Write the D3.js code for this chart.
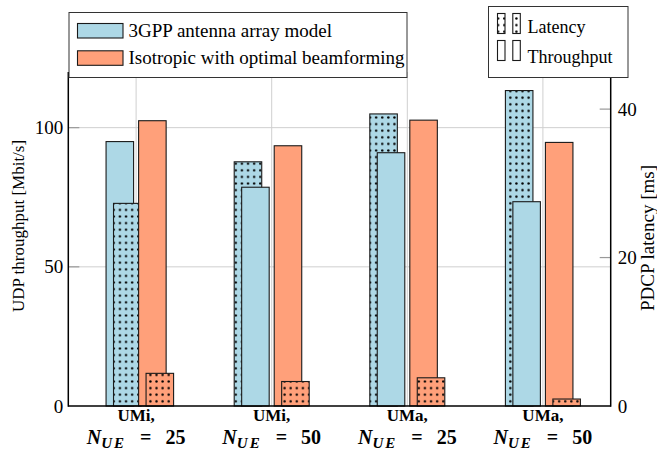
<!DOCTYPE html>
<html>
<head>
<meta charset="utf-8">
<script src="https://cdn.jsdelivr.net/npm/d3@7"></script>
<style>
  html, body { margin: 0; padding: 0; background: #fff; }
  svg { display: block; }
</style>
</head>
<body>
<svg id="chart" width="657" height="451"></svg>
<script>
// ---------------- data ----------------
const scenarios = ["UMi,", "UMi,", "UMa,", "UMa,"];
const userCounts = [25, 50, 25, 50];
const throughput3gpp = [95.0, 78.6, 91.0, 73.4];      // Mbit/s
const throughputIso = [102.5, 93.5, 102.7, 94.7];     // Mbit/s
const latency3gpp = [27.3, 32.9, 39.35, 42.5];        // ms
const latencyIso = [4.4, 3.3, 3.8, 0.94];             // ms
const latency3gppPos = [0.11, 1, 2, 3];               // category-axis position of 3GPP latency bars
const categoryPos = [0, 1, 2, 3];
const leftTicks = [0, 50, 100];
const rightTicks = [0, 20, 40];
const seriesNames = ["3GPP antenna array model", "Isotropic with optimal beamforming"];
const metricNames = ["Latency", "Throughput"];

// ---------------- layout ----------------
const FONT = "Liberation Serif";
const L = 68.3, R = 610.7, T = 72, B = 406;
const colBlue = "#add8e6", colOrange = "#ffa07a";
const root = d3.select("#chart");
const svg = root.append("g").style("font-family", FONT);

const x = d3.scaleLinear().domain([-0.5, 3.5]).range([L, R]);
const yL = d3.scaleLinear().domain([0, 120]).range([B, T]);
const yR = d3.scaleLinear().domain([0, 45]).range([B, T]);
const unit = x(1) - x(0);
const barW = 0.203 * unit;
const thrShift = 0.12, latShift = 0.175;

// patterns
const defs = root.append("defs");
function dotPattern(id, bg) {
  const p = defs.append("pattern").attr("id", id)
    .attr("patternUnits", "userSpaceOnUse").attr("width", 6.1).attr("height", 6.6)
    .attr("x", 1).attr("y", 2);
  p.append("rect").attr("width", 6.1).attr("height", 6.6).attr("fill", bg);
  p.append("circle").attr("cx", 3).attr("cy", 3.3).attr("r", 1.2).attr("fill", "#000");
}
dotPattern("dotBlue", colBlue);
dotPattern("dotOrange", colOrange);
dotPattern("dotWhite", "#fff");

// grid
const grid = svg.append("g");
grid.selectAll("line.h").data(leftTicks.filter(d => d > 0)).join("line")
  .attr("x1", L).attr("x2", R).attr("y1", d => yL(d)).attr("y2", d => yL(d))
  .attr("stroke", "#cfcfcf").attr("stroke-width", 1);
grid.selectAll("line.v").data(categoryPos).join("line")
  .attr("x1", d => x(d)).attr("x2", d => x(d)).attr("y1", T).attr("y2", B)
  .attr("stroke", "#cfcfcf").attr("stroke-width", 1);
grid.selectAll("line.tl").data(leftTicks.filter(d => d > 0)).join("line")
  .attr("x1", L).attr("x2", L + 11).attr("y1", d => yL(d)).attr("y2", d => yL(d))
  .attr("stroke", "#999").attr("stroke-width", 1.2);
grid.selectAll("line.tr").data(rightTicks.filter(d => d > 0)).join("line")
  .attr("x1", R - 11).attr("x2", R).attr("y1", d => yR(d)).attr("y2", d => yR(d))
  .attr("stroke", "#999").attr("stroke-width", 1.2);

// bars (painted left to right)
const bars = [];
categoryPos.forEach((c, i) => {
  bars.push({ cx: x(c - thrShift), y: yL(throughput3gpp[i]), fill: colBlue });
  bars.push({ cx: x(c + thrShift), y: yL(throughputIso[i]), fill: colOrange });
  bars.push({ cx: x(latency3gppPos[i] - latShift), y: yR(latency3gpp[i]), fill: "url(#dotBlue)" });
  bars.push({ cx: x(c + latShift), y: yR(latencyIso[i]), fill: "url(#dotOrange)" });
});
bars.sort((a, b) => a.cx - b.cx);
svg.append("g").selectAll("rect").data(bars).join("rect")
  .attr("x", d => d.cx - barW / 2).attr("width", barW)
  .attr("y", d => d.y).attr("height", d => B - d.y)
  .attr("fill", d => d.fill).attr("stroke", "#1a1a1a").attr("stroke-width", 1.1);

// axis lines
svg.append("line").attr("x1", L).attr("x2", L).attr("y1", T).attr("y2", B + 0.7)
  .attr("stroke", "#000").attr("stroke-width", 1.5);
svg.append("line").attr("x1", R).attr("x2", R).attr("y1", T).attr("y2", B + 0.7)
  .attr("stroke", "#000").attr("stroke-width", 1.5);
svg.append("line").attr("x1", L).attr("x2", R).attr("y1", B).attr("y2", B)
  .attr("stroke", "#000").attr("stroke-width", 1.5);

// tick labels via d3 axes
const axL = svg.append("g").attr("transform", `translate(${L},0)`)
  .call(d3.axisLeft(yL).tickValues(leftTicks).tickSize(0).tickPadding(5));
const axR = svg.append("g").attr("transform", `translate(${R},0)`)
  .call(d3.axisRight(yR).tickValues(rightTicks).tickSize(0).tickPadding(7));
[axL, axR].forEach(a => {
  a.attr("font-family", null);
  a.select(".domain").remove();
  a.selectAll("text").style("font-family", FONT).attr("font-size", 19).attr("fill", "#000");
});

// axis titles
svg.append("text").attr("transform", "translate(24,226) rotate(-90)")
  .attr("text-anchor", "middle").attr("font-size", 17).text("UDP throughput [Mbit/s]");
svg.append("text").attr("transform", "translate(654,238) rotate(-90)")
  .attr("text-anchor", "middle").attr("font-size", 19).text("PDCP latency [ms]");

// category labels
const cat = svg.append("g").attr("font-weight", "bold").attr("text-anchor", "middle");
categoryPos.forEach((c, i) => {
  cat.append("text").attr("x", x(c)).attr("y", 421).attr("font-size", 17).text(scenarios[i]);
  const t = cat.append("text").attr("x", x(c)).attr("y", 444).attr("font-size", 20);
  t.append("tspan").attr("font-style", "italic").text("N");
  t.append("tspan").attr("font-style", "italic").attr("font-size", 15).attr("letter-spacing", 2)
    .attr("dy", 4).text("UE");
  t.append("tspan").attr("dy", -4).attr("xml:space", "preserve").text("\u2002\u2009=\u2002\u2009" + userCounts[i]);
});

// legend 1
const lg1 = svg.append("g");
lg1.append("rect").attr("x", 69).attr("y", 12.5).attr("width", 338).attr("height", 65)
  .attr("fill", "#fff").attr("stroke", "#333").attr("stroke-width", 1);
[colBlue, colOrange].forEach((c, i) => {
  lg1.append("rect").attr("x", 77.5).attr("y", 23.5 + i * 27.3).attr("width", 45.5).attr("height", 14.5)
    .attr("fill", c).attr("stroke", "#1a1a1a").attr("stroke-width", 1.1);
  lg1.append("text").attr("x", 128.5).attr("y", 36.5 + i * 27).attr("font-size", 19).text(seriesNames[i]);
});

// legend 2
const lg2 = svg.append("g");
lg2.append("rect").attr("x", 488.5).attr("y", 6.5).attr("width", 139.5).attr("height", 71)
  .attr("fill", "#fff").attr("stroke", "#333").attr("stroke-width", 1);
["url(#dotWhite)", "#fff"].forEach((f, i) => {
  [497.5, 512.8].forEach(xx => {
    lg2.append("rect").attr("x", xx).attr("y", 13.5 + i * 27).attr("width", 7.5).attr("height", 20)
      .attr("fill", f).attr("stroke", "#1a1a1a").attr("stroke-width", 1.1);
  });
  lg2.append("text").attr("x", 527.5).attr("y", 32.5 + i * 30).attr("font-size", 18).text(metricNames[i]);
});
</script>
</body>
</html>
